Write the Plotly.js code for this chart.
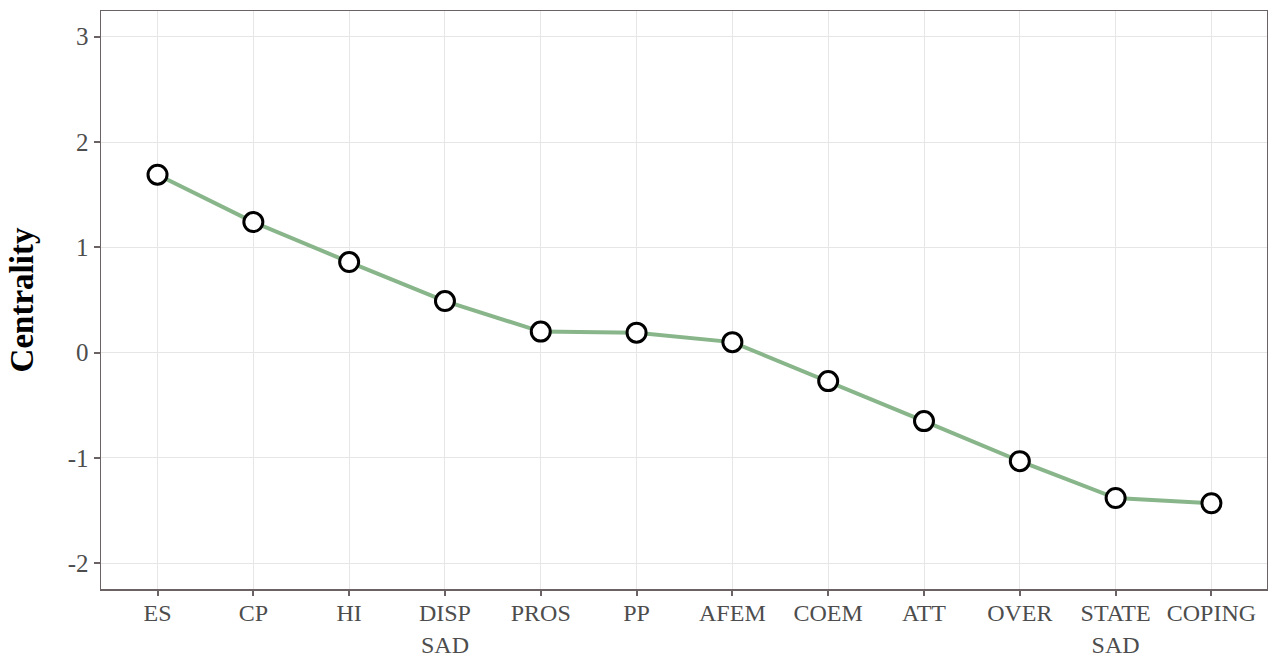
<!DOCTYPE html>
<html>
<head>
<meta charset="utf-8">
<script src="https://cdn.plot.ly/plotly-3.0.1.min.js"></script>
<style>html,body{margin:0;padding:0;background:#fff;}#chart{width:1268px;height:657px;}</style>
</head>
<body>
<div id="chart"></div>
<script>
const categories = ["ES", "CP", "HI", "DISP<br>SAD", "PROS", "PP", "AFEM", "COEM", "ATT", "OVER", "STATE<br>SAD", "COPING"];
const centrality = [1.69, 1.24, 0.86, 0.49, 0.20, 0.19, 0.10, -0.27, -0.65, -1.03, -1.38, -1.43];
const yTicks = [-2, -1, 0, 1, 2, 3];

const trace = {
  x: categories.map((c, i) => i),
  y: centrality,
  type: "scatter",
  mode: "lines+markers",
  line: {color: "#88b68a", width: 4},
  marker: {size: 19, color: "#ffffff", line: {color: "#000000", width: 3}},
  hoverinfo: "x+y"
};

const layout = {
  width: 1268, height: 657,
  margin: {l: 101, r: 1, t: 11, b: 68},
  paper_bgcolor: "#ffffff",
  plot_bgcolor: "#ffffff",
  showlegend: false,
  font: {family: "Liberation Serif, Times New Roman, serif", size: 24, color: "#4d4d4d"},
  xaxis: {
    range: [-0.59, 11.58],
    tickmode: "array",
    tickvals: categories.map((c, i) => i),
    ticktext: categories,
    showgrid: true, gridcolor: "#e6e6e6", gridwidth: 1,
    zeroline: false,
    showline: true, linecolor: "#6b6363", linewidth: 1.5, mirror: true,
    ticks: "outside", ticklen: 5, tickwidth: 2, tickcolor: "#6b6363",
    ticklabelstandoff: -3,
    tickfont: {size: 24, color: "#4d4d4d"}
  },
  yaxis: {
    range: [-2.244, 3.244],
    tickmode: "array",
    tickvals: yTicks,
    ticktext: yTicks.map(String),
    showgrid: true, gridcolor: "#e6e6e6", gridwidth: 1,
    zeroline: false,
    showline: true, linecolor: "#6b6363", linewidth: 1.5, mirror: true,
    ticks: "outside", ticklen: 6, tickwidth: 2, tickcolor: "#6b6363",
    tickfont: {size: 25, color: "#4d4d4d"},
    title: {text: "<b>Centrality</b>", font: {size: 33, color: "#000000"}, standoff: 24}
  }
};

Plotly.newPlot("chart", [trace], layout, {displayModeBar: false, staticPlot: true});
</script>
</body>
</html>
